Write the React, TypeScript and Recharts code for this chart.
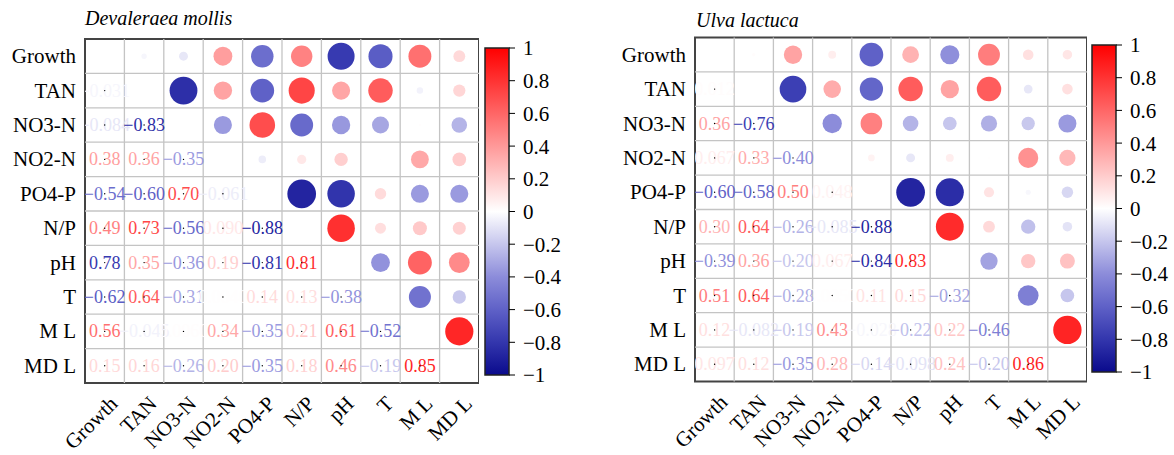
import React from "react";
import {
  ScatterChart,
  Scatter,
  XAxis,
  YAxis,
  ZAxis,
  Cell,
  ReferenceLine,
  ReferenceArea,
  ComposedChart,
  Bar,
} from "recharts";

const variables = ["Growth", "TAN", "NO3-N", "NO2-N", "PO4-P", "N/P", "pH", "T", "M L", "MD L"];

// lower triangle (row i, columns 0..i-1)
const mollisLower = [
  [],
  [-0.031],
  [-0.084, -0.83],
  [0.38, 0.36, -0.35],
  [-0.54, -0.6, 0.7, -0.061],
  [0.49, 0.73, -0.56, 0.09, -0.88],
  [-0.78, 0.35, -0.36, 0.19, -0.81, 0.81],
  [-0.62, 0.64, -0.31, 0.004, 0.14, 0.13, -0.38],
  [0.56, -0.045, 0.006, 0.34, -0.35, 0.21, 0.61, -0.52],
  [0.15, 0.16, -0.26, 0.2, -0.35, 0.18, 0.46, -0.19, 0.85],
];
// the printed text differs from the value in this one cell
const mollisLabelOverrides: Record<string, string> = { "6-0": "0.78" };

const lactucaLower = [
  [],
  [0.012],
  [0.36, -0.76],
  [0.067, 0.33, -0.4],
  [-0.6, -0.58, 0.5, 0.048],
  [0.3, 0.64, -0.26, -0.085, -0.88],
  [-0.39, 0.36, -0.2, 0.067, -0.84, 0.83],
  [0.51, 0.64, -0.28, 0.005, 0.11, 0.15, -0.32],
  [0.12, -0.082, -0.19, 0.43, -0.028, -0.22, 0.22, -0.46],
  [0.097, 0.12, -0.35, 0.28, -0.14, -0.098, 0.24, -0.2, 0.86],
];

const colorbarTicks = [-1, -0.8, -0.6, -0.4, -0.2, 0, 0.2, 0.4, 0.6, 0.8, 1];

const colorStops: [number, number[]][] = [
  [-1, [10, 10, 140]],
  [-0.7, [72, 76, 190]],
  [-0.4, [140, 140, 218]],
  [0, [255, 255, 255]],
  [1, [255, 0, 0]],
];

const FONT = '"Liberation Serif", "Times New Roman", serif';

function corrColor(v: number): string {
  const c = Math.max(-1, Math.min(1, v));
  for (let k = 0; k < colorStops.length - 1; k++) {
    const [v0, c0] = colorStops[k];
    const [v1, c1] = colorStops[k + 1];
    if (c >= v0 && c <= v1) {
      const t = (c - v0) / (v1 - v0);
      const rgb = c0.map((a, i) => Math.round(a + (c1[i] - a) * t));
      return `rgb(${rgb[0]},${rgb[1]},${rgb[2]})`;
    }
  }
  return "#fff";
}

function fmt(v: number): string {
  const a = Math.abs(v);
  const s = a >= 0.1 ? a.toFixed(2) : a.toPrecision(2);
  return (v < 0 ? "\u2212" : "") + s;
}

const cellTicks = variables.map((_, i) => i);
const bounds = variables.slice(1).map((_, i) => i + 0.5);

function XTick(props: any) {
  const { x, y, payload } = props;
  const ax = x + 14;
  const ay = y + 22;
  return (
    <text
      x={ax}
      y={ay}
      textAnchor="end"
      transform={`rotate(-45, ${ax}, ${ay})`}
      fontSize={21}
      fontFamily={FONT}
      fill="#000"
    >
      {variables[payload.value]}
    </text>
  );
}

function YTick(props: any) {
  const { x, y, payload } = props;
  return (
    <text x={x - 9} y={y + 7} textAnchor="end" fontSize={21} fontFamily={FONT} fill="#000">
      {variables[payload.value]}
    </text>
  );
}

function TextCell(props: any) {
  const { cx, cy, payload } = props;
  return (
    <g>
      <text
        x={cx}
        y={cy + 6}
        textAnchor="middle"
        fontSize={18}
        fontFamily={FONT}
        fill={corrColor(payload.v)}
      >
        {payload.label}
      </text>
      <circle cx={cx} cy={cy} r={0.7} fill="#000" />
    </g>
  );
}

function CorrMatrix({
  lower,
  overrides,
  width,
  yAxisWidth,
  top,
  xAxisHeight,
}: {
  lower: number[][];
  overrides: Record<string, string>;
  width: number;
  yAxisWidth: number;
  top: number;
  xAxisHeight: number;
}) {
  const lowerPts: any[] = [];
  const upperPts: any[] = [];
  lower.forEach((row, i) =>
    row.forEach((v, j) => {
      lowerPts.push({ x: j, y: i, v, label: overrides[`${i}-${j}`] ?? fmt(v) });
      upperPts.push({ x: i, y: j, v, a: Math.abs(v) });
    })
  );

  return (
    <ScatterChart width={width} height={455} margin={{ top, right: 0, bottom: 0, left: 0 }}>
      <XAxis
        type="number"
        dataKey="x"
        domain={[-0.5, 9.5]}
        ticks={cellTicks}
        interval={0}
        tick={<XTick />}
        tickLine={false}
        axisLine={false}
        tickSize={0}
        tickMargin={0}
        height={xAxisHeight}
        allowDataOverflow
      />
      <YAxis
        type="number"
        dataKey="y"
        domain={[-0.5, 9.5]}
        reversed
        ticks={cellTicks}
        interval={0}
        tick={<YTick />}
        tickLine={false}
        axisLine={false}
        tickSize={0}
        tickMargin={0}
        width={yAxisWidth}
        allowDataOverflow
      />
      <ZAxis zAxisId="z" type="number" dataKey="a" domain={[0, 1]} range={[0, 735]} />
      {bounds.map((b) => (
        <ReferenceLine key={`vx${b}`} x={b} stroke="#c4c4c4" strokeWidth={1.3} />
      ))}
      {bounds.map((b) => (
        <ReferenceLine key={`hy${b}`} y={b} stroke="#c4c4c4" strokeWidth={1.3} />
      ))}
      <Scatter data={upperPts} zAxisId="z" shape="circle" isAnimationActive={false}>
        {upperPts.map((d, k) => (
          <Cell key={k} fill={corrColor(d.v)} />
        ))}
      </Scatter>
      <Scatter data={lowerPts} shape={<TextCell />} isAnimationActive={false} />
      <ReferenceArea
        x1={-0.5}
        x2={9.5}
        y1={-0.5}
        y2={9.5}
        fill="none"
        fillOpacity={0}
        stroke="#444"
        strokeWidth={2}
      />
    </ScatterChart>
  );
}

function ColorBar({ id, top, bottom }: { id: string; top: number; bottom: number }) {
  const data = [{ name: "cb", range: [-1, 1] }];
  return (
    <ComposedChart
      width={100}
      height={455}
      data={data}
      margin={{ top, right: 0, bottom, left: 15 }}
      barCategoryGap={0}
    >
      <defs>
        <linearGradient id={id} x1="0" y1="0" x2="0" y2="1">
          {colorbarTicks
            .slice()
            .reverse()
            .map((v) => (
              <stop key={v} offset={`${((1 - v) / 2) * 100}%`} stopColor={corrColor(v)} />
            ))}
        </linearGradient>
      </defs>
      <XAxis dataKey="name" type="category" hide />
      <YAxis
        orientation="right"
        type="number"
        domain={[-1, 1]}
        ticks={colorbarTicks}
        interval={0}
        width={61}
        axisLine={false}
        tickSize={6}
        tickMargin={8}
        tickLine={{ stroke: "#000", strokeWidth: 1 }}
        tick={{ fill: "#000", fontSize: 21, fontFamily: FONT }}
        tickFormatter={(v: number) =>
          (v < 0 ? "\u2212" : "") + String(Number(Math.abs(v).toFixed(1)))
        }
      />
      <Bar dataKey="range" fill={`url(#${id})`} stroke="#222" strokeWidth={1.5} isAnimationActive={false} />
    </ComposedChart>
  );
}

const titleStyle: React.CSSProperties = {
  position: "absolute",
  fontFamily: FONT,
  fontStyle: "italic",
  fontSize: 20,
  lineHeight: "20px",
  color: "#000",
  whiteSpace: "nowrap",
};

export default function App() {
  return (
    <div
      style={{
        position: "absolute",
        left: 0,
        top: 0,
        width: 1174,
        height: 455,
        background: "#fff",
        overflow: "hidden",
      }}
    >
      <div style={{ ...titleStyle, left: 85, top: 8 }}>Devaleraea mollis</div>
      <div style={{ ...titleStyle, left: 696, top: 10 }}>Ulva lactuca</div>

      <div style={{ position: "absolute", left: 0, top: 0 }}>
        <CorrMatrix
          lower={mollisLower}
          overrides={mollisLabelOverrides}
          width={479}
          yAxisWidth={85}
          top={39}
          xAxisHeight={72}
        />
      </div>
      <div style={{ position: "absolute", left: 470, top: 0 }}>
        <ColorBar id="cbLeft" top={48} bottom={80} />
      </div>

      <div style={{ position: "absolute", left: 600, top: 0 }}>
        <CorrMatrix
          lower={lactucaLower}
          overrides={{}}
          width={487}
          yAxisWidth={95}
          top={37.5}
          xAxisHeight={73.5}
        />
      </div>
      <div style={{ position: "absolute", left: 1077, top: 0 }}>
        <ColorBar id="cbRight" top={45} bottom={83} />
      </div>
    </div>
  );
}
